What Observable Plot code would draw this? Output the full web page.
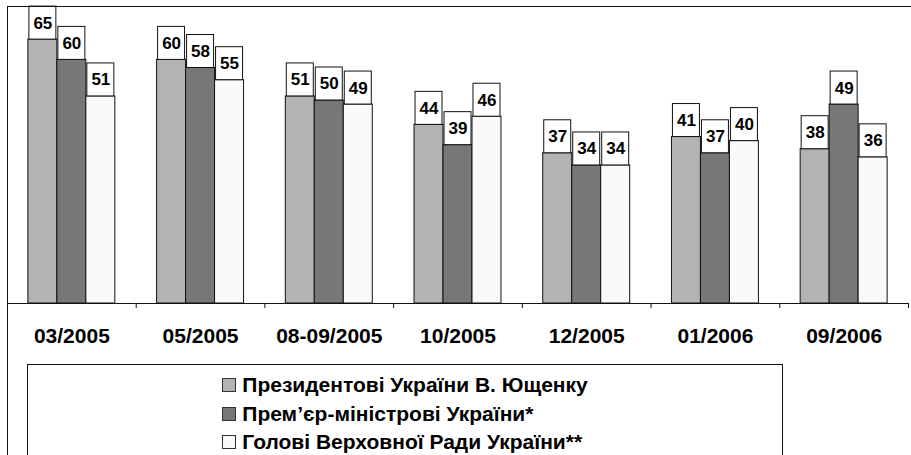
<!DOCTYPE html>
<html>
<head>
<meta charset="utf-8">
<script src="https://cdn.jsdelivr.net/npm/d3@7"></script>
<script src="https://cdn.jsdelivr.net/npm/@observablehq/plot@0.6"></script>
<style>
  html, body { margin: 0; padding: 0; background: #fff; }
  #wrap { position: relative; width: 911px; height: 455px; overflow: hidden; font-family: Arial, "Liberation Sans", sans-serif; }
  #frame { position: absolute; left: 7px; top: 6px; right: -2px; bottom: -10px; border-left: 1px solid #111; border-top: 1px solid #111; pointer-events: none; }
  #legend { position: absolute; left: 27px; top: 364px; width: 754px; height: 120px; border: 1px solid #111; text-align: center; }
  #legend .inner { display: inline-block; text-align: left; margin-top: 6px; }
  #legend .row { height: 28.5px; font-size: 21px; font-weight: bold; color: #000; display: flex; align-items: center; white-space: nowrap; }
  #legend .sw { width: 12px; height: 12px; border: 1px solid #333; margin-right: 6px; display: inline-block; }
</style>
</head>
<body>
<div id="wrap">
  <div id="chart"></div>
  <div id="legend"><div class="inner" id="legendInner"></div></div>
  <div id="frame"></div>
</div>
<script>
const periods = ["03/2005", "05/2005", "08-09/2005", "10/2005", "12/2005", "01/2006", "09/2006"];
const seriesNames = ["Президентові України В. Ющенку", "Прем’єр-міністрові України*", "Голові Верховної Ради України**"];
const president = [65, 60, 51, 44, 37, 41, 38];
const premier = [60, 58, 50, 39, 34, 37, 49];
const speaker = [51, 55, 49, 46, 34, 40, 36];
const colors = ["#b3b3b3", "#777777", "#fafafa"];

const seriesValues = [president, premier, speaker];
const data = [];
periods.forEach((p, i) => {
  seriesNames.forEach((s, j) => {
    data.push({period: p, series: s, value: seriesValues[j][i]});
  });
});

const W = 911, H = 360;
const step = (W - 7 - 3) / periods.length;

const chart = Plot.plot({
  width: W,
  height: H,
  marginTop: 6,
  marginBottom: 57,
  marginLeft: 7,
  marginRight: 3,
  style: {fontFamily: "Arial, 'Liberation Sans', sans-serif", background: "transparent"},
  fx: {domain: periods, padding: 0, round: false, label: null},
  x: {domain: seriesNames, paddingInner: 0, paddingOuter: 0.72, round: false, axis: null},
  y: {domain: [0, 73.15], axis: null},
  color: {domain: seriesNames, range: colors},
  marks: [
    Plot.barY(data, {fx: "period", x: "series", y: "value", fill: "series", stroke: "#111", strokeWidth: 1}),
    Plot.barY(data, {fx: "period", x: "series", y1: "value", y2: "value", insetTop: -33, insetLeft: 1, insetRight: 1, fill: "#fff", stroke: "#111", strokeWidth: 1}),
    Plot.text(data, {fx: "period", x: "series", y: "value", text: d => String(d.value), dy: -16.5, fontSize: 17, fontWeight: "bold", fill: "#000", lineAnchor: "middle"}),
    Plot.ruleY([0], {stroke: "#111", strokeWidth: 1}),
    Plot.axisFx({anchor: "bottom", tickSize: 0, tickPadding: 25, fontSize: 21, fontWeight: "bold", fill: "#000", label: null}),
    Plot.axisFx({anchor: "bottom", tickSize: 5, tickFormat: () => "", dx: step / 2, stroke: "#111", label: null})
  ]
});
document.getElementById("chart").appendChild(chart);

const inner = document.getElementById("legendInner");
seriesNames.forEach((s, j) => {
  const row = document.createElement("div");
  row.className = "row";
  const sw = document.createElement("span");
  sw.className = "sw";
  sw.style.background = colors[j];
  row.appendChild(sw);
  row.appendChild(document.createTextNode(s));
  inner.appendChild(row);
});
</script>
</body>
</html>
